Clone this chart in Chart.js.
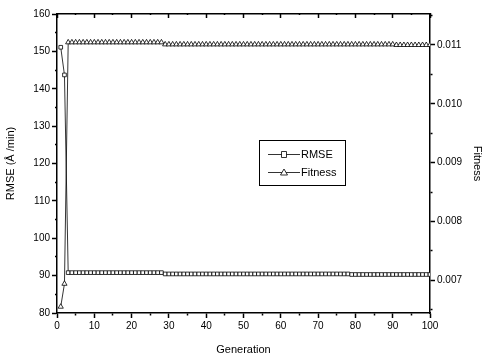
<!DOCTYPE html>
<html>
<head>
<meta charset="utf-8">
<title>RMSE and Fitness</title>
<script src="https://cdn.jsdelivr.net/npm/chart.js@4.4.1/dist/chart.umd.min.js"></script>
<style>
  body { margin: 0; background: #fff; }
  #wrap { width: 484px; height: 359px; }
</style>
</head>
<body>
<div id="wrap"><canvas id="chart" width="484" height="359"></canvas></div>
<script>
var generations = [
  1, 2, 3, 4, 5, 6, 7, 8, 9, 10,
  11, 12, 13, 14, 15, 16, 17, 18, 19, 20,
  21, 22, 23, 24, 25, 26, 27, 28, 29, 30,
  31, 32, 33, 34, 35, 36, 37, 38, 39, 40,
  41, 42, 43, 44, 45, 46, 47, 48, 49, 50,
  51, 52, 53, 54, 55, 56, 57, 58, 59, 60,
  61, 62, 63, 64, 65, 66, 67, 68, 69, 70,
  71, 72, 73, 74, 75, 76, 77, 78, 79, 80,
  81, 82, 83, 84, 85, 86, 87, 88, 89, 90,
  91, 92, 93, 94, 95, 96, 97, 98, 99, 100
];

var rmse = [
  151.1, 143.7, 90.8, 90.8, 90.8, 90.8, 90.8, 90.8, 90.8, 90.8,
  90.8, 90.8, 90.8, 90.8, 90.8, 90.8, 90.8, 90.8, 90.8, 90.8,
  90.8, 90.8, 90.8, 90.8, 90.8, 90.8, 90.8, 90.8, 90.45, 90.45,
  90.45, 90.45, 90.45, 90.45, 90.45, 90.45, 90.45, 90.45, 90.45, 90.45,
  90.45, 90.45, 90.45, 90.45, 90.45, 90.45, 90.45, 90.45, 90.45, 90.45,
  90.45, 90.45, 90.45, 90.45, 90.45, 90.45, 90.45, 90.45, 90.45, 90.45,
  90.45, 90.45, 90.45, 90.45, 90.45, 90.45, 90.45, 90.45, 90.45, 90.45,
  90.45, 90.45, 90.45, 90.45, 90.45, 90.45, 90.45, 90.45, 90.3, 90.3,
  90.3, 90.3, 90.3, 90.3, 90.3, 90.3, 90.3, 90.3, 90.3, 90.3,
  90.3, 90.3, 90.3, 90.3, 90.3, 90.3, 90.3, 90.3, 90.3, 90.3
];

var fitness = [
  0.00655, 0.00694, 0.011045, 0.011045, 0.011045, 0.011045, 0.011045, 0.011045, 0.011045, 0.011045,
  0.011045, 0.011045, 0.011045, 0.011045, 0.011045, 0.011045, 0.011045, 0.011045, 0.011045, 0.011045,
  0.011045, 0.011045, 0.011045, 0.011045, 0.011045, 0.011045, 0.011045, 0.011045, 0.01101, 0.01101,
  0.01101, 0.01101, 0.01101, 0.01101, 0.01101, 0.01101, 0.01101, 0.01101, 0.01101, 0.01101,
  0.01101, 0.01101, 0.01101, 0.01101, 0.01101, 0.01101, 0.01101, 0.01101, 0.01101, 0.01101,
  0.01101, 0.01101, 0.01101, 0.01101, 0.01101, 0.01101, 0.01101, 0.01101, 0.01101, 0.01101,
  0.01101, 0.01101, 0.01101, 0.01101, 0.01101, 0.01101, 0.01101, 0.01101, 0.01101, 0.01101,
  0.01101, 0.01101, 0.01101, 0.01101, 0.01101, 0.01101, 0.01101, 0.01101, 0.01101, 0.01101,
  0.01101, 0.01101, 0.01101, 0.01101, 0.01101, 0.01101, 0.01101, 0.01101, 0.01101, 0.01101,
  0.0110, 0.0110, 0.0110, 0.0110, 0.0110, 0.0110, 0.0110, 0.0110, 0.0110, 0.0110
];

// right axis ticks (majors every 0.001, minors between)
var fitnessTicks = [0.0065, 0.007, 0.0075, 0.008, 0.0085, 0.009, 0.0095, 0.010, 0.0105, 0.011, 0.0115];

var FONT = 'Liberation Sans, Arial, sans-serif';

function isMajor(v, step) {
  var r = v / step;
  return Math.abs(r - Math.round(r)) < 1e-6;
}

// minor ticks drawn shorter by dashing the tick line
function tickDash(step, outerFirst) {
  return function(ctx) {
    if (!ctx.tick || isMajor(ctx.tick.value, step)) return [];
    return outerFirst ? [0, 3, 2, 20] : [2, 20];
  };
}

function pts(ys) {
  var out = [];
  generations.forEach(function(g, i) { out.push({x: g, y: ys[i]}); });
  return out;
}

var legendBox = {
  id: 'legendBox',
  afterDraw: function(chart) {
    var c = chart.ctx;
    c.save();
    c.strokeStyle = '#000';
    c.lineWidth = 1;
    c.strokeRect(259.5, 140.5, 86, 45);
    c.font = '11px ' + FONT;
    c.fillStyle = '#000';
    c.textBaseline = 'middle';
    var rows = [{label: 'RMSE', y: 154, shape: 'rect'}, {label: 'Fitness', y: 172, shape: 'tri'}];
    rows.forEach(function(r) {
      c.beginPath();
      c.moveTo(268, r.y + 0.5);
      c.lineTo(300, r.y + 0.5);
      c.lineWidth = 0.8;
      c.stroke();
      c.beginPath();
      if (r.shape === 'rect') {
        c.rect(281.5, r.y - 2.5, 5, 6);
      } else {
        c.moveTo(284, r.y - 3);
        c.lineTo(287.5, r.y + 3);
        c.lineTo(280.5, r.y + 3);
        c.closePath();
      }
      c.fillStyle = '#fff';
      c.fill();
      c.stroke();
      c.fillStyle = '#000';
      c.fillText(r.label, 301, r.y + 1);
    });
    c.restore();
  }
};

var chart = new Chart(document.getElementById('chart'), {
  type: 'line',
  data: {
    datasets: [{
      label: 'RMSE',
      data: pts(rmse),
      yAxisID: 'y',
      borderColor: '#000',
      borderWidth: 0.8,
      pointStyle: 'rect',
      pointRadius: 2.6,
      pointBackgroundColor: '#fff',
      pointBorderColor: '#000',
      pointBorderWidth: 0.8,
      tension: 0
    }, {
      label: 'Fitness',
      data: pts(fitness),
      yAxisID: 'y1',
      borderColor: '#000',
      borderWidth: 0.8,
      pointStyle: 'triangle',
      pointRadius: 3,
      pointBackgroundColor: '#fff',
      pointBorderColor: '#000',
      pointBorderWidth: 0.8,
      tension: 0
    }]
  },
  plugins: [legendBox],
  options: {
    responsive: false,
    animation: false,
    layout: { padding: 0 },
    plugins: { legend: { display: false }, tooltip: { enabled: false } },
    scales: {
      x: {
        type: 'linear', position: 'bottom', min: 0, max: 100,
        afterFit: function(s) { s.height = 46; },
        ticks: {
          stepSize: 5, autoSkip: false, color: '#000', padding: 2, maxRotation: 0,
          font: { family: FONT, size: 10 },
          callback: function(v) { return isMajor(v, 10) ? v : ''; }
        },
        grid: { drawOnChartArea: false, tickLength: 5, tickColor: '#000',
                tickWidth: 1.5, tickBorderDash: tickDash(10, false) },
        border: { color: '#000', width: 1.5 },
        title: { display: true, text: 'Generation', color: '#000',
                 font: { family: FONT, size: 11 }, padding: { top: 2, bottom: 2 } }
      },
      x2: {
        type: 'linear', position: 'top', min: 0, max: 100,
        afterFit: function(s) { s.height = 14; },
        ticks: { display: false, stepSize: 5, autoSkip: false },
        grid: { drawOnChartArea: false, tickLength: -4, tickColor: '#000',
                tickWidth: 1.5, tickBorderDash: tickDash(10, true) },
        border: { color: '#000', width: 1.5 }
      },
      y: {
        position: 'left', min: 80, max: 160,
        afterFit: function(s) { s.width = 57; },
        ticks: {
          stepSize: 5, autoSkip: false, color: '#000', padding: 2,
          font: { family: FONT, size: 10 },
          callback: function(v) { return isMajor(v, 10) ? v : ''; }
        },
        grid: { drawOnChartArea: false, tickLength: 5, tickColor: '#000',
                tickWidth: 1.5, tickBorderDash: tickDash(10, true) },
        border: { color: '#000', width: 1.5 },
        title: { display: true, text: 'RMSE (Å /min)', color: '#000',
                 font: { family: FONT, size: 11 }, padding: { top: 4, bottom: 4 } }
      },
      y1: {
        position: 'right', min: 0.006443, max: 0.011527,
        afterFit: function(s) { s.width = 54; },
        afterBuildTicks: function(s) {
          s.ticks = fitnessTicks.map(function(v) { return { value: v }; });
        },
        ticks: {
          autoSkip: false, color: '#000', padding: 2,
          font: { family: FONT, size: 10 },
          callback: function(v) { return isMajor(v, 0.001) ? v.toFixed(3) : ''; }
        },
        grid: { drawOnChartArea: false, tickLength: 5, tickColor: '#000',
                tickWidth: 1.5, tickBorderDash: tickDash(0.001, false) },
        border: { color: '#000', width: 1.5 },
        title: { display: true, text: 'Fitness', color: '#000',
                 font: { family: FONT, size: 11 }, padding: { top: 0, bottom: 0 } }
      }
    }
  }
});
</script>
</body>
</html>
